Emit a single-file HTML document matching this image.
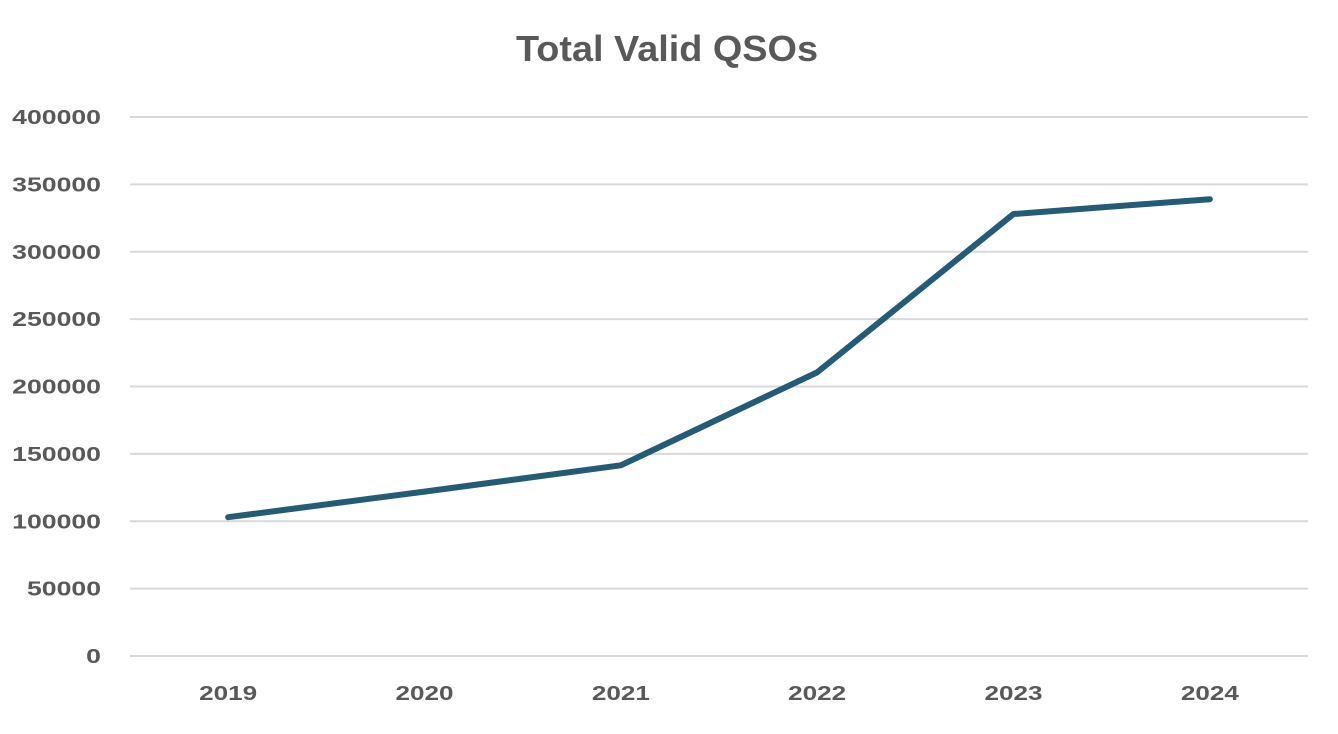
<!DOCTYPE html>
<html><head><meta charset="utf-8"><style>
html,body{margin:0;padding:0;background:#fff;}
svg{display:block;font-family:"Liberation Sans",sans-serif;}
</style></head><body>
<svg id="chart" width="1338" height="734" viewBox="0 0 1338 734">
<rect x="0" y="0" width="1338" height="734" fill="#fff"/>
<text x="667" y="61" text-anchor="middle" font-size="36" font-weight="bold" fill="#595959" textLength="302" lengthAdjust="spacingAndGlyphs">Total Valid QSOs</text>
<g id="grid"></g><g id="ylabels"></g><g id="xlabels"></g><g id="series"></g>
</svg>
<script>
const categories = ["2019","2020","2021","2022","2023","2024"];
const values = [103000, 122000, 141500, 210500, 328000, 339000];
const yTicks = [0,50000,100000,150000,200000,250000,300000,350000,400000];
const yMax = 400000;
const NS = "http://www.w3.org/2000/svg";
const plotLeft = 130, plotRight = 1308, plotTop = 117, plotBottom = 656;
const band = (plotRight-plotLeft)/categories.length;
const xPos = i => plotLeft + band*(i+0.5);
const yPos = v => plotBottom - (v/yMax)*(plotBottom-plotTop);
const grid = document.getElementById('grid'), yl = document.getElementById('ylabels'), xl = document.getElementById('xlabels'), ser = document.getElementById('series');
yTicks.forEach(t => {
  const l = document.createElementNS(NS,'line');
  
  
  l.setAttribute('x1',plotLeft); l.setAttribute('x2',plotRight);
  l.setAttribute('y1',yPos(t)); l.setAttribute('y2',yPos(t));
  l.setAttribute('stroke','#d9d9d9'); l.setAttribute('stroke-width','2');
  grid.appendChild(l);
  const tx = document.createElementNS(NS,'text');
  
  
  tx.setAttribute('x',101); tx.setAttribute('y',yPos(t)+7);
  tx.setAttribute('text-anchor','end'); tx.setAttribute('font-size','20');
  tx.setAttribute('font-weight','bold'); tx.setAttribute('fill','#595959');
  const s = String(t);
  tx.setAttribute('textLength', s.length*14.8);
  tx.setAttribute('lengthAdjust','spacingAndGlyphs');
  tx.textContent = s;
  yl.appendChild(tx);
});
categories.forEach((c,i) => {
  const tx = document.createElementNS(NS,'text');
  
  
  tx.setAttribute('x',xPos(i)); tx.setAttribute('y',700);
  tx.setAttribute('text-anchor','middle'); tx.setAttribute('font-size','20');
  tx.setAttribute('font-weight','bold'); tx.setAttribute('fill','#595959');
  tx.setAttribute('textLength','58'); tx.setAttribute('lengthAdjust','spacingAndGlyphs');
  tx.textContent = c;
  xl.appendChild(tx);
});
const p = document.createElementNS(NS,'polyline');


p.setAttribute('points', values.map((v,i)=>xPos(i)+','+yPos(v)).join(' '));
p.setAttribute('fill','none'); p.setAttribute('stroke','#245b76');
p.setAttribute('stroke-width','6'); p.setAttribute('stroke-linecap','round'); p.setAttribute('stroke-linejoin','round');
ser.appendChild(p);
</script>
</body></html>
